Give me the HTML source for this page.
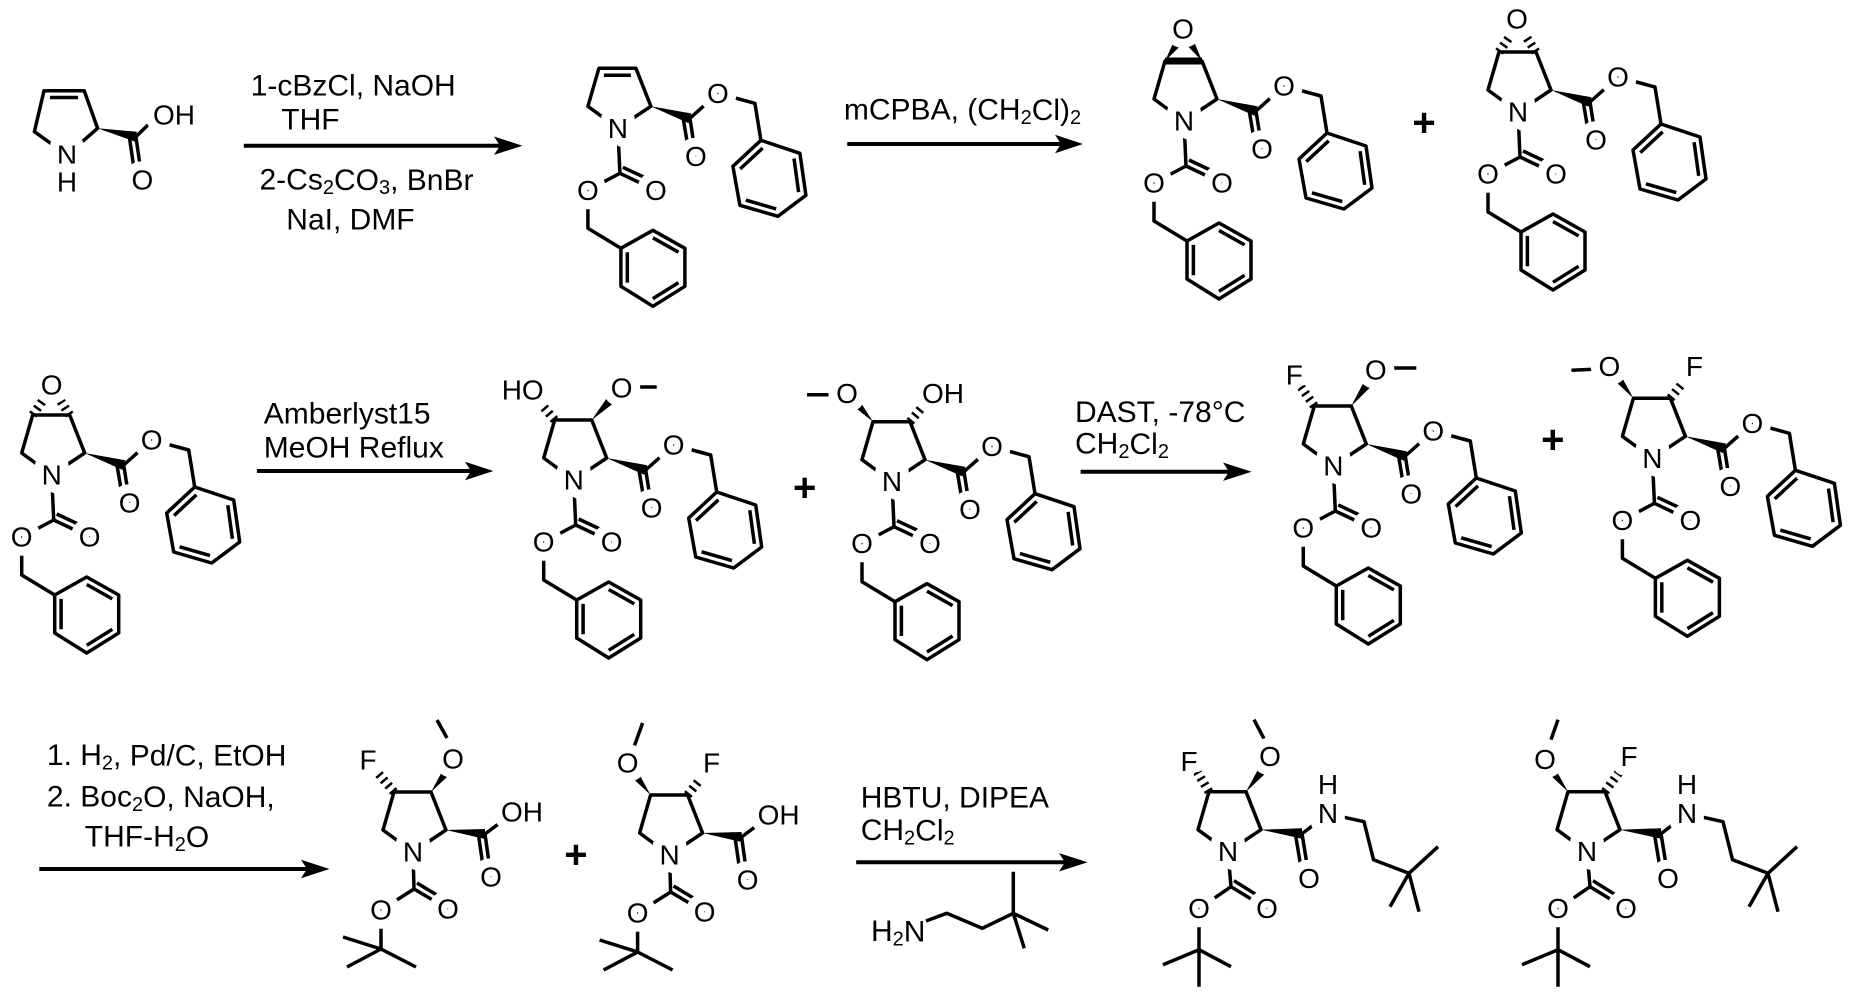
<!DOCTYPE html>
<html><head><meta charset="utf-8">
<style>
html,body{margin:0;padding:0;background:#fff;}
svg{display:block;}
.b{stroke:#000;stroke-width:3.5;fill:none;stroke-linejoin:round;}
.h{stroke:#000;stroke-width:9;fill:none;stroke-dasharray:2.5,4.5;}
.a{font-family:"Liberation Sans",Arial,sans-serif;font-size:28px;text-anchor:middle;dominant-baseline:central;paint-order:stroke;stroke:#fff;stroke-width:18px;stroke-linejoin:round;fill:#000;}
.r{font-family:"Liberation Sans",Arial,sans-serif;font-size:30px;dominant-baseline:central;fill:#000;}
.p{font-family:"Liberation Sans",Arial,sans-serif;font-size:40px;font-weight:bold;text-anchor:middle;dominant-baseline:central;fill:#000;}
</style></head>
<body>
<svg width="1854" height="992" viewBox="0 0 1854 992" xmlns="http://www.w3.org/2000/svg">
<defs>
 <g id="ring"><path class="b" d="M0,0 L-30,-22 L-19,-60 L18,-60 L33,-22 Z"/></g>
 <g id="cbz">
  <path class="b" d="M0,0 L2,45 L-30,62 L-30,100 L3,120"/>
  <path class="b" d="M2,45 L38,62 M5,39 L39,55"/>
  <polygon class="b" points="3,120 35,102 67,120 67,158 35,178 3,158"/>
  <path class="b" d="M35,109.5 L60.6,123.9 M9.4,123.9 L9.4,154.3 M60.6,154.3 L35,170.3"/>
 </g>
 <g id="ester">
  <polygon points="33,-22 73.5,-14.8 70.5,-5.2" fill="#000"/>
  <path class="b" d="M72,-10 L100,-35 L137,-25 L143,12 M72,-10 L78,28 M65.5,-8.5 L71,24"/>
  <polygon class="b" points="143,12 182,25 188,67 160,88 122,77 115,38"/>
  <path class="b" d="M122.3,40.6 L144.7,19.8 M176.1,30.2 L180.7,63.8 M158.3,80.6 L127.9,71.8"/>
 </g>
 <g id="boc">
  <path class="b" d="M0,0 L1,37 L-32,58 L-32,97 M-32,97 L-70,85 M-32,97 L-66,115 M-32,97 L3,115"/>
  <path class="b" d="M1,37 L35,57 M4,31 L37,51"/>
 </g>
 <g id="acid">
  <polygon points="33,-22 72,-23 72,-13" fill="#000"/>
  <path class="b" d="M72,-18 L96,-36 M72,-18 L78,25 M65.5,-17 L71,21"/>
 </g>
 <g id="amide">
  <polygon points="33,-22 74,-23.5 74,-13" fill="#000"/>
  <path class="b" d="M74,-18 L100,-38 M100,-38 L136,-30 L145.5,8 L181,21.6 M181,21.6 L210,-5 M181,21.6 L162,55 M181,21.6 L191,60"/>
  <path class="b" d="M74,-18 L81,25 M67.5,-17 L74,22"/>
  <path class="b" d="M0,0 L3,35 L-29,57 L-29,98 M-29,98 L-65,113 M-29,98 L3,115 M-29,98 L-29,135"/>
  <path class="b" d="M3,35 L39,57 M6,29 L41,51"/>
 </g>
</defs>

<!-- ROW 1 -->
<path class="b" d="M67,155 L34.4,131.7 L44,90.7 L84.2,90.7 L97.6,128.3 Z M50,97.5 L78,97.5"/>
<polygon points="97.6,128.3 136.9,131.8 134.9,141.6" fill="#000"/>
<path class="b" d="M135.9,136.7 L153,120 M135.9,136.7 L141,172 M129.5,138 L134.5,172"/>
<text class="a" x="67" y="155">N</text>
<text class="a" x="67" y="182">H</text>
<text class="a" x="142.4" y="180">O</text>
<text class="a" x="153" y="115" style="text-anchor:start">OH</text>

<path class="b" d="M243.8,145.7 L500,145.7" style="stroke-width:4"/>
<polygon points="522.4,145.7 494,136.5 500,145.7 494,154.9" fill="#000"/>
<text class="r" x="250.7" y="86">1-cBzCl, NaOH</text>
<text class="r" x="281.3" y="120">THF</text>
<text class="r" x="259.5" y="180">2-Cs<tspan font-size="20" dy="8">2</tspan><tspan dy="-8">CO</tspan><tspan font-size="20" dy="8">3</tspan><tspan dy="-8">, BnBr</tspan></text>
<text class="r" x="286.3" y="220">NaI, DMF</text>

<g transform="translate(617.9,128.3)">
 <use href="#ring"/><use href="#cbz"/><use href="#ester"/>
 <path class="b" d="M-14,-53 L13,-53"/>
 <text class="a" x="0" y="0">N</text>
 <text class="a" x="100" y="-35">O</text>
 <text class="a" x="78" y="28">O</text>
 <text class="a" x="38" y="62">O</text>
 <text class="a" x="-30" y="62">O</text>
</g>

<path class="b" d="M847.3,144 L1062,144" style="stroke-width:4"/>
<polygon points="1083,144 1055,134.8 1061,144 1055,153.2" fill="#000"/>
<text class="r" x="843.9" y="110">mCPBA, (CH<tspan font-size="20" dy="8">2</tspan><tspan dy="-8">Cl)</tspan><tspan font-size="20" dy="8">2</tspan></text>

<g transform="translate(1184,121)">
 <use href="#ring"/><use href="#cbz"/><use href="#ester"/>
 <path class="b" d="M-19,-60 L18,-60" style="stroke-width:7"/>
 <polygon points="-19,-60 -1.3,-77.4 -8.7,-82.6" fill="#000"/>
 <polygon points="18,-60 8.8,-82.5 1.2,-77.5" fill="#000"/>
 <text class="a" x="-1" y="-92">O</text>
 <text class="a" x="0" y="0">N</text>
 <text class="a" x="100" y="-35">O</text>
 <text class="a" x="78" y="28">O</text>
 <text class="a" x="38" y="62">O</text>
 <text class="a" x="-30" y="62">O</text>
</g>
<text class="p" x="1424" y="123">+</text>

<g transform="translate(1518,112)">
 <use href="#ring"/><use href="#cbz"/><use href="#ester"/>
 <path class="h" d="M-19,-60 L-5,-80 M18,-60 L5,-80"/>
 <text class="a" x="-1" y="-93">O</text>
 <text class="a" x="0" y="0">N</text>
 <text class="a" x="100" y="-35">O</text>
 <text class="a" x="78" y="28">O</text>
 <text class="a" x="38" y="62">O</text>
 <text class="a" x="-30" y="62">O</text>
</g>

<!-- ROW 2 -->
<g transform="translate(51.7,475)">
 <use href="#ring"/><use href="#cbz"/><use href="#ester"/>
 <path class="h" d="M-19,-60 L-5,-80 M18,-60 L5,-80"/>
 <text class="a" x="0" y="-90">O</text>
 <text class="a" x="0" y="0">N</text>
 <text class="a" x="100" y="-35">O</text>
 <text class="a" x="78" y="28">O</text>
 <text class="a" x="38" y="62">O</text>
 <text class="a" x="-30" y="62">O</text>
</g>

<path class="b" d="M256.9,471 L472,471" style="stroke-width:4"/>
<polygon points="493.4,471 465,461.8 471,471 465,480.2" fill="#000"/>
<text class="r" x="263.8" y="414">Amberlyst15</text>
<text class="r" x="263.8" y="448">MeOH Reflux</text>

<g transform="translate(573.7,480)">
 <use href="#ring"/><use href="#cbz"/><use href="#ester"/>
 <path class="h" d="M-19,-60 L-36,-80"/>
 <polygon points="18,-60 41.3,-77.9 34.7,-84.1" fill="#000"/>
 <path class="b" d="M62,-93 L83,-93"/>
 <text class="a" x="-30" y="-90" style="text-anchor:end">HO</text>
 <text class="a" x="48" y="-92">O</text>
 <text class="a" x="0" y="0">N</text>
 <text class="a" x="100" y="-35">O</text>
 <text class="a" x="78" y="28">O</text>
 <text class="a" x="38" y="62">O</text>
 <text class="a" x="-30" y="62">O</text>
</g>
<text class="p" x="804.7" y="488">+</text>

<g transform="translate(892,481.7)">
 <use href="#ring"/><use href="#cbz"/><use href="#ester"/>
 <path class="h" d="M18,-60 L33,-78"/>
 <polygon points="-19,-60 -33.7,-83 -40.3,-77" fill="#000"/>
 <path class="b" d="M-54,-87 L-85,-87"/>
 <text class="a" x="-45" y="-88">O</text>
 <text class="a" x="30" y="-88" style="text-anchor:start">OH</text>
 <text class="a" x="0" y="0">N</text>
 <text class="a" x="100" y="-35">O</text>
 <text class="a" x="78" y="28">O</text>
 <text class="a" x="38" y="62">O</text>
 <text class="a" x="-30" y="62">O</text>
</g>

<path class="b" d="M1080.6,471.7 L1230,471.7" style="stroke-width:4"/>
<polygon points="1251.6,471.7 1223,462.5 1229,471.7 1223,480.9" fill="#000"/>
<text class="r" x="1075" y="412.7">DAST, -78°C</text>
<text class="r" x="1075" y="444">CH<tspan font-size="20" dy="8">2</tspan><tspan dy="-8">Cl</tspan><tspan font-size="20" dy="8">2</tspan></text>

<g transform="translate(1333.3,466)">
 <use href="#ring"/><use href="#cbz"/><use href="#ester"/>
 <path class="h" d="M-19,-60 L-33,-80"/>
 <polygon points="18,-60 38.6,-80.3 31.4,-85.7" fill="#000"/>
 <path class="b" d="M59,-98 L83,-98"/>
 <text class="a" x="-39" y="-91">F</text>
 <text class="a" x="42.5" y="-96">O</text>
 <text class="a" x="0" y="0">N</text>
 <text class="a" x="100" y="-35">O</text>
 <text class="a" x="78" y="28">O</text>
 <text class="a" x="38" y="62">O</text>
 <text class="a" x="-30" y="62">O</text>
</g>
<text class="p" x="1552.8" y="440">+</text>

<g transform="translate(1652.4,458.3)">
 <use href="#ring"/><use href="#cbz"/><use href="#ester"/>
 <path class="h" d="M18,-60 L34,-80"/>
 <polygon points="-19,-60 -32.7,-85 -39.3,-79" fill="#000"/>
 <path class="b" d="M-59,-89 L-81,-88"/>
 <text class="a" x="-43" y="-92">O</text>
 <text class="a" x="42" y="-92">F</text>
 <text class="a" x="0" y="0">N</text>
 <text class="a" x="100" y="-35">O</text>
 <text class="a" x="78" y="28">O</text>
 <text class="a" x="38" y="62">O</text>
 <text class="a" x="-30" y="62">O</text>
</g>

<!-- ROW 3 -->
<path class="b" d="M39.3,869 L308,869" style="stroke-width:4"/>
<polygon points="329.5,869 301,859.8 307,869 301,878.2" fill="#000"/>
<text class="r" x="46.9" y="755.7">1. H<tspan font-size="20" dy="8">2</tspan><tspan dy="-8">, Pd/C, EtOH</tspan></text>
<text class="r" x="46.9" y="797">2. Boc<tspan font-size="20" dy="8">2</tspan><tspan dy="-8">O, NaOH,</tspan></text>
<text class="r" x="84.8" y="837">THF-H<tspan font-size="20" dy="8">2</tspan><tspan dy="-8">O</tspan></text>

<g transform="translate(413,852)">
 <use href="#ring"/><use href="#boc"/><use href="#acid"/>
 <path class="h" d="M-19,-60 L-36,-80"/>
 <polygon points="18,-60 38.6,-79.3 31.4,-84.7" fill="#000"/>
 <path class="b" d="M34,-114 L24,-132"/>
 <text class="a" x="-45" y="-92">F</text>
 <text class="a" x="40" y="-93">O</text>
 <text class="a" x="0" y="0">N</text>
 <text class="a" x="78" y="25">O</text>
 <text class="a" x="88" y="-40" style="text-anchor:start">OH</text>
 <text class="a" x="35" y="57">O</text>
 <text class="a" x="-32" y="58">O</text>
</g>
<text class="p" x="575.9" y="855">+</text>

<g transform="translate(669.6,855)">
 <use href="#ring"/><use href="#boc"/><use href="#acid"/>
 <path class="h" d="M18,-60 L34,-80"/>
 <polygon points="-19,-60 -32.7,-85 -39.3,-79" fill="#000"/>
 <path class="b" d="M-36,-107 L-27,-132"/>
 <text class="a" x="-42" y="-92">O</text>
 <text class="a" x="42" y="-92">F</text>
 <text class="a" x="0" y="0">N</text>
 <text class="a" x="78" y="25">O</text>
 <text class="a" x="88" y="-40" style="text-anchor:start">OH</text>
 <text class="a" x="35" y="57">O</text>
 <text class="a" x="-32" y="58">O</text>
</g>

<path class="b" d="M856.2,862.3 L1066,862.3" style="stroke-width:4"/>
<polygon points="1087.7,862.3 1059,853.1 1065,862.3 1059,871.5" fill="#000"/>
<text class="r" x="860.7" y="798">HBTU, DIPEA</text>
<text class="r" x="860.7" y="830.7">CH<tspan font-size="20" dy="8">2</tspan><tspan dy="-8">Cl</tspan><tspan font-size="20" dy="8">2</tspan></text>
<path class="b" d="M926,921 L946.7,913.3 L982.3,928.3 L1013.3,913.3 M1013.3,913.3 L1013.3,871.7 M1013.3,913.3 L1024.3,948.3 M1013.3,913.3 L1048.2,930"/>
<text class="r" x="871" y="931.7">H<tspan font-size="20" dy="8">2</tspan><tspan dy="-8">N</tspan></text>

<g transform="translate(1228,851.7)">
 <use href="#ring"/><use href="#amide"/>
 <path class="h" d="M-19,-60 L-31,-80"/>
 <polygon points="18,-60 38.6,-79.3 31.4,-84.7" fill="#000"/>
 <path class="b" d="M36,-113 L26,-132"/>
 <text class="a" x="-39" y="-90">F</text>
 <text class="a" x="42" y="-95">O</text>
 <text class="a" x="0" y="0">N</text>
 <text class="a" x="100" y="-38">N</text>
 <text class="a" x="100" y="-67">H</text>
 <text class="a" x="81" y="27">O</text>
 <text class="a" x="39" y="57">O</text>
 <text class="a" x="-29" y="57">O</text>
</g>

<g transform="translate(1587,851.7)">
 <use href="#ring"/><use href="#amide"/>
 <path class="h" d="M18,-60 L34,-82"/>
 <polygon points="-19,-60 -32.7,-85 -39.3,-79" fill="#000"/>
 <path class="b" d="M-36,-112 L-29,-132"/>
 <text class="a" x="-42" y="-92">O</text>
 <text class="a" x="42" y="-95">F</text>
 <text class="a" x="0" y="0">N</text>
 <text class="a" x="100" y="-38">N</text>
 <text class="a" x="100" y="-67">H</text>
 <text class="a" x="81" y="27">O</text>
 <text class="a" x="39" y="57">O</text>
 <text class="a" x="-29" y="57">O</text>
</g>
</svg>
</body></html>
